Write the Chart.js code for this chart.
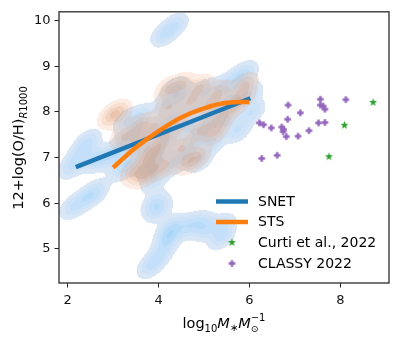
<!DOCTYPE html>
<html><head><meta charset="utf-8">
<script src="https://cdn.jsdelivr.net/npm/chart.js@4.4.1/dist/chart.umd.min.js"></script>
<style>html,body{margin:0;padding:0;background:#fff}</style>
</head><body>
<canvas id="c" width="399" height="340"></canvas>
<script>
// ---- data ----
const xTicks = [2, 4, 6, 8];
const yTicks = [5, 6, 7, 8, 9, 10];

const snetMass = [2.18, 6.02];
const snetOH   = [6.79, 8.30];

const stsMass = [3.0, 3.5, 4.0, 4.5, 5.0, 5.5, 6.0];
const stsOH   = [6.78, 7.22, 7.58, 7.88, 8.08, 8.20, 8.22];

const curtiMass = [7.75, 8.09, 8.72];
const curtiOH   = [7.02, 7.71, 8.21];

const classyMass = [6.85, 7.12, 7.56, 7.56, 7.62, 7.66, 8.12, 6.22, 6.31, 6.48, 6.84, 6.71, 6.75, 6.74, 6.81, 7.07, 7.31, 7.52, 7.66, 6.27, 6.61];
const classyOH   = [8.15, 7.98, 8.28, 8.15, 8.13, 8.06, 8.27, 7.76, 7.72, 7.65, 7.84, 7.67, 7.62, 7.57, 7.46, 7.47, 7.59, 7.76, 7.77, 6.98, 7.05];

// samples behind the density contours (SNET = blue, STS = orange)
const snetSampleMass = [4.12, 4.36, 2.12, 2.40, 2.62,
  3.82, 4.02, 4.20, 4.22, 4.30, 4.00, 3.92, 4.62, 4.88, 5.05, 5.38, 5.40,
  2.08, 2.28, 2.45, 2.55, 2.80,
  3.05, 3.25, 3.40, 3.50, 3.60, 3.70, 3.80, 3.90, 4.00, 4.05, 4.15, 4.20, 4.30, 4.35, 4.50, 4.60, 4.65, 4.80, 4.85, 4.90,
  5.00, 5.10, 5.20, 5.30, 5.40, 5.50, 5.60, 5.70, 5.90, 6.00, 6.05, 5.75, 3.30, 4.35, 3.20];
const snetSampleOH = [9.70, 9.90, 5.92, 6.10, 6.25,
  4.62, 4.85, 5.15, 5.32, 5.48, 5.85, 6.00, 5.50, 5.55, 5.45, 5.25, 5.50,
  6.80, 7.10, 7.35, 6.95, 7.00,
  7.05, 7.30, 6.95, 7.55, 7.90, 7.25, 6.80, 6.50, 7.05, 7.65, 8.15, 7.40, 6.85, 7.85, 8.35, 7.10, 7.65, 8.05, 7.40, 6.95,
  8.45, 7.75, 7.35, 8.05, 8.55, 7.80, 8.25, 8.70, 8.85, 8.40, 8.00, 7.60, 7.80, 8.50, 6.75];

const stsSampleMass = [2.95, 3.12, 3.22, 3.45, 3.65, 3.82, 3.75, 3.92, 3.90, 4.10, 4.12, 4.22, 4.20, 4.42, 4.52, 4.50,
  4.70, 4.85, 4.92, 4.92, 5.12, 5.22, 5.35, 5.32, 5.60, 5.82, 5.90, 4.62, 3.55, 3.60];
const stsSampleOH = [7.90, 8.00, 7.45, 6.68, 6.60, 6.72, 7.02, 7.12, 7.65, 7.38, 6.82, 8.10, 8.50, 7.72, 8.60, 7.22,
  8.22, 7.00, 8.55, 7.60, 8.12, 7.55, 7.82, 8.42, 8.12, 8.30, 8.60, 6.90, 7.35, 7.70];

// ---- helpers ----
const FONT = "'DejaVu Sans', 'Liberation Sans', sans-serif";
function makeMarker(kind, color, r) {
  const s = Math.ceil(r * 2 + 2);
  const c = document.createElement('canvas'); c.width = c.height = s;
  const g = c.getContext('2d'); g.fillStyle = color; g.beginPath();
  const cx = s / 2, cy = s / 2;
  if (kind === 'star') {
    for (let i = 0; i < 10; i++) {
      const ang = -Math.PI / 2 + i * Math.PI / 5;
      const rr = (i % 2) ? r * 0.42 : r;
      g.lineTo(cx + rr * Math.cos(ang), cy + rr * Math.sin(ang));
    }
  } else {
    const a = r, t = r * 0.38;
    const pts = [[-t,-a],[t,-a],[t,-t],[a,-t],[a,t],[t,t],[t,a],[-t,a],[-t,t],[-a,t],[-a,-t],[-t,-t]];
    pts.forEach(p => g.lineTo(cx + p[0], cy + p[1]));
  }
  g.closePath(); g.fill();
  return c;
}
const starImg = makeMarker('star', '#2ca02c', 4.2);
const plusImg = makeMarker('plus', '#9467bd', 3.3);

const zip = (xs, ys) => xs.map((v, i) => ({x: v, y: ys[i]}));

function kdeLayer(chart, xs, ys, levels, colors) {
  const a = chart.chartArea, sx = chart.scales.x, sy = chart.scales.y;
  const W = Math.round(a.right - a.left), H = Math.round(a.bottom - a.top);
  const off = document.createElement('canvas'); off.width = W; off.height = H;
  const octx = off.getContext('2d');
  const img = octx.createImageData(W, H);
  const dens = new Float32Array(W * H);
  const A = 8.8, B = 5.7; // kernel sigmas (px) along / across the diagonal
  const c = 0.762, s = -0.648;
  const R = Math.ceil(A * 3.2);
  xs.forEach((v, i) => {
    const px = sx.getPixelForValue(v) - a.left, py = sy.getPixelForValue(ys[i]) - a.top;
    const x0 = Math.max(0, Math.floor(px - R)), x1 = Math.min(W - 1, Math.ceil(px + R));
    const y0 = Math.max(0, Math.floor(py - R)), y1 = Math.min(H - 1, Math.ceil(py + R));
    for (let y = y0; y <= y1; y++) for (let x = x0; x <= x1; x++) {
      const dx = x + 0.5 - px, dy = y + 0.5 - py;
      const u = dx * c + dy * s, w = -dx * s + dy * c;
      dens[y * W + x] += Math.exp(-(u * u) / (2 * A * A) - (w * w) / (2 * B * B));
    }
  });
  for (let i = 0; i < W * H; i++) {
    const d = dens[i]; let k = -1;
    for (let j = 0; j < levels.length; j++) if (d >= levels[j]) k = j;
    if (k >= 0) { const col = colors[k]; img.data[i*4] = col[0]; img.data[i*4+1] = col[1]; img.data[i*4+2] = col[2]; img.data[i*4+3] = col[3]; }
  }
  octx.putImageData(img, 0, 0);
  chart.ctx.drawImage(off, a.left, a.top);
}

const kdePlugin = {
  id: 'kde',
  beforeDatasetsDraw(chart) {
    const lv = [0.2, 0.55, 1.0, 1.5, 2.1, 2.8];
    kdeLayer(chart, snetSampleMass, snetSampleOH, lv,
      [[216,230,246,255],[207,227,248,255],[195,223,249,255],[182,219,249,255],[168,214,248,255],[155,209,247,255]]);
    kdeLayer(chart, stsSampleMass, stsSampleOH, lv,
      [[240,160,110,50],[232,150,100,75],[222,140,90,100],[212,132,82,122],[202,125,75,145],[192,118,70,165]]);
  }
};

function drawRich(ctx, parts, x, y, align) {
  const widths = parts.map(p => { ctx.font = (p[2] ? 'oblique ' : '') + p[1] + 'px ' + FONT; return ctx.measureText(p[0]).width; });
  let cur = 0; const xs = [];
  for (let i = 0; i < parts.length; i++) {
    if (parts[i][4] === 'stack') { xs.push(xs[i-1]); cur = Math.max(cur, xs[i] + widths[i]); }
    else { xs.push(cur); cur += widths[i]; }
  }
  const total = cur;
  const start = align === 'center' ? x - total / 2 : x;
  ctx.textBaseline = 'alphabetic'; ctx.textAlign = 'left';
  parts.forEach((p, i) => {
    ctx.font = (p[2] ? 'oblique ' : '') + p[1] + 'px ' + FONT;
    ctx.fillText(p[0], start + xs[i], y + p[3]);
  });
}

const decorPlugin = {
  id: 'decor',
  afterDraw(chart) {
    const ctx = chart.ctx, a = chart.chartArea;
    ctx.save();
    ctx.strokeStyle = '#3a3a3a'; ctx.lineWidth = 1.4;
    ctx.strokeRect(a.left, a.top, a.right - a.left, a.bottom - a.top);
    const ds = chart.data.datasets;
    const rows = [201.5, 222, 242.5, 263.5];
    ctx.font = '14px ' + FONT; ctx.textBaseline = 'middle'; ctx.textAlign = 'left';
    ds.forEach((d, i) => {
      const y = rows[i];
      if (d.type === 'line') {
        ctx.strokeStyle = d.borderColor; ctx.lineWidth = 4.5; ctx.lineCap = 'butt';
        ctx.beginPath(); ctx.moveTo(216, y); ctx.lineTo(248, y); ctx.stroke();
      } else {
        const im = d.pointStyle;
        ctx.drawImage(im, 232 - im.width / 2, y - im.height / 2);
      }
      ctx.fillStyle = '#000';
      ctx.font = '14px ' + FONT; ctx.textBaseline = 'middle';
      ctx.fillText(d.label, 258, y + 0.5);
    });
    ctx.fillStyle = '#000';
    drawRich(ctx, [['log', 14.5, false, 0], ['10', 10, false, 3.5], ['M', 14.5, true, 0], ['\u2217', 10, false, 2.5],
                   ['M', 14.5, true, 0], ['\u2299', 9.5, false, 4], ['\u22121', 10, false, -7, 'stack']], 224, 328, 'center');
    ctx.translate(23, 148); ctx.rotate(-Math.PI / 2);
    drawRich(ctx, [['12+log(O/H)', 14.5, false, 0], ['R', 10, true, 3.5], ['1000', 10, false, 3.5]], 0, 0, 'center');
    ctx.restore();
  }
};

new Chart(document.getElementById('c'), {
  type: 'scatter',
  data: {
    datasets: [
      { type: 'line', label: 'SNET', data: zip(snetMass, snetOH), borderColor: '#1f77b4', borderWidth: 4.5,
        pointRadius: 0, fill: false, order: 3, borderCapStyle: 'butt' },
      { type: 'line', label: 'STS', data: zip(stsMass, stsOH), borderColor: '#ff7f0e', borderWidth: 4.5,
        pointRadius: 0, fill: false, tension: 0.4, cubicInterpolationMode: 'monotone', order: 2, borderCapStyle: 'butt' },
      { type: 'scatter', label: 'Curti et al., 2022', data: zip(curtiMass, curtiOH), pointStyle: starImg, pointRadius: 3, order: 1 },
      { type: 'scatter', label: 'CLASSY 2022', data: zip(classyMass, classyOH), pointStyle: plusImg, pointRadius: 3, order: 0 }
    ]
  },
  options: {
    responsive: false, animation: false, devicePixelRatio: 1,
    layout: { padding: { left: 0, top: 10, right: 10, bottom: 0 } },
    plugins: { legend: { display: false }, tooltip: { enabled: false } },
    scales: {
      x: {
        type: 'linear', min: 1.81, max: 9.07,
        afterBuildTicks: s => { s.ticks = xTicks.map(v => ({ value: v })); },
        afterFit: s => { s.height = 57; },
        grid: { drawOnChartArea: false, drawTicks: true, tickLength: 4.5, color: '#222', lineWidth: 1 },
        border: { display: false },
        ticks: { font: { family: FONT, size: 13 }, color: '#111', padding: 5, maxRotation: 0 }
      },
      y: {
        type: 'linear', min: 4.25, max: 10.196,
        afterBuildTicks: s => { s.ticks = yTicks.map(v => ({ value: v })); },
        afterFit: s => { s.width = 59; },
        grid: { drawOnChartArea: false, drawTicks: true, tickLength: 4.5, color: '#222', lineWidth: 1 },
        border: { display: false },
        ticks: { font: { family: FONT, size: 13 }, color: '#111', padding: 4 }
      }
    }
  },
  plugins: [kdePlugin, decorPlugin]
});
</script>
</body></html>
